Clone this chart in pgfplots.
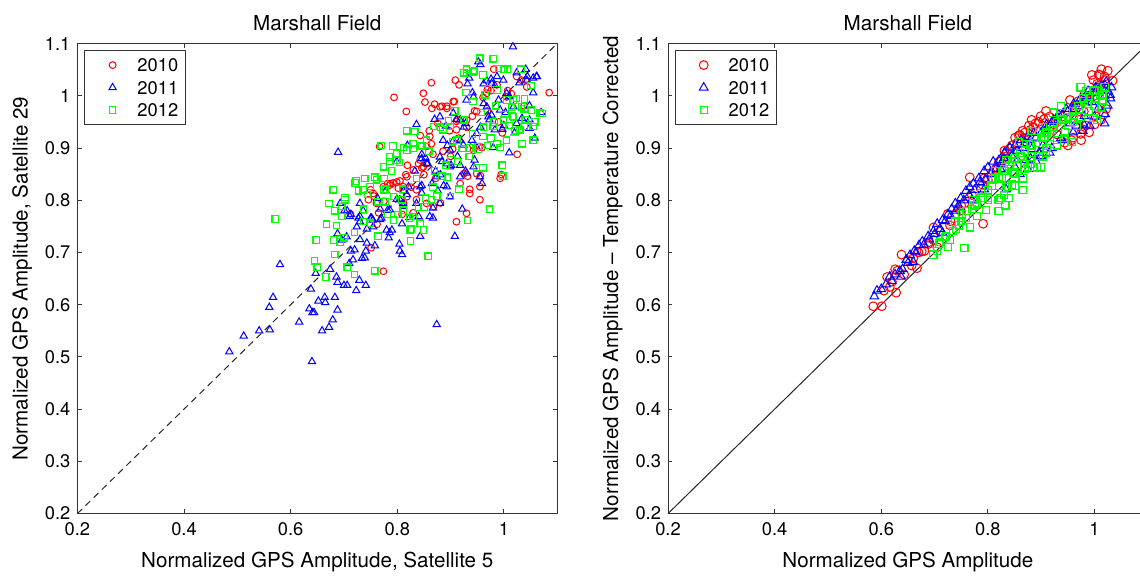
\documentclass[border=0pt]{standalone}
\usepackage{pgfplots}
\pgfplotsset{compat=1.18}
\usepackage{fontspec}
\setmainfont{TeX Gyre Heros}
\definecolor{mred}{rgb}{1,0,0}
\definecolor{mblue}{rgb}{0,0,1}
\definecolor{mgreen}{rgb}{0,1,0}

\pgfplotsset{
  mfig/.style={
    scale only axis, width=239.9pt, height=235pt,
    xmin=0.2, xmax=1.1, ymin=0.2, ymax=1.1,
    xtick={0.2,0.4,0.6,0.8,1},
    ytick={0.2,0.3,0.4,0.5,0.6,0.7,0.8,0.9,1,1.1},
    tick align=inside, major tick length=2.2pt,
    axis line style={black!80, line width=0.5pt},
    every tick/.style={black!80, line width=0.5pt},
    /pgf/number format/assume math mode=true,
    tick label style={font=\fontsize{9.15}{11}\selectfont},
    xticklabel style={yshift=-0.7pt},
    label style={font=\fontsize{10.3}{12}\selectfont},
    title style={font=\fontsize{10.3}{12}\selectfont, at={(axis description cs:0.5,1.01702)}, anchor=center},
    xlabel style={at={(axis description cs:0.5,-0.1149)}, anchor=base},
    ylabel style={at={(axis description cs:-0.1038,0.5)}, anchor=base},
    clip=false,
    legend cell align=left,
    legend style={
      at={(axis description cs:0.01292,0.98596)}, anchor=north west,
      draw=black!80, line width=0.5pt, fill=white,
      inner xsep=3.45pt, inner ysep=3.95pt,
      nodes={inner sep=0pt, text depth=0pt},
      row sep=4.75pt,
      font=\fontsize{9.15}{11}\selectfont,
    },
    legend image code/.code={\path (0pt,0pt) (22.75pt,0pt); \draw[##1] plot coordinates {(10.55pt,0pt)};},
  },
  ms2010/.style={only marks, mark=o, color=mred, mark options={line width=0.5pt, color=mred, fill=none}},
  ms2011/.style={only marks, mark=triangle, color=mblue, mark options={line width=0.5pt, color=mblue, fill=none}},
  ms2012/.style={only marks, mark=square, color=mgreen, mark options={line width=0.6pt, color=mgreen, fill=none}},
}

\pgfplotstableread{
x y
0.774 0.664
0.751 0.709
0.712 0.774
0.762 0.754
0.765 0.776
0.767 0.903
0.756 0.808
0.750 0.820
0.775 0.798
0.782 0.832
0.792 0.833
0.799 0.835
0.805 0.837
0.794 0.997
0.817 0.970
0.816 0.849
0.819 0.867
0.809 0.773
0.826 0.825
0.830 0.776
0.836 0.820
0.840 0.870
0.846 0.862
0.843 0.924
0.852 0.988
0.860 0.933
0.864 1.025
0.864 0.908
0.867 0.888
0.870 0.984
0.872 0.842
0.876 0.947
0.881 0.795
0.884 0.980
0.886 0.894
0.893 0.980
0.898 0.933
0.904 0.898
0.907 0.989
0.909 1.030
0.913 0.954
0.916 1.021
0.918 0.832
0.925 0.851
0.930 0.940
0.932 0.846
0.936 0.821
0.941 0.961
0.945 0.971
0.949 0.851
0.955 0.801
0.956 0.847
0.959 0.901
0.961 0.997
0.969 0.971
0.976 1.010
0.981 1.051
0.990 0.950
0.995 0.849
0.997 0.929
1.007 1.010
1.014 1.004
1.025 0.888
1.038 0.981
1.041 1.030
1.085 1.006
0.969 1.012
0.942 0.905
0.915 0.919
0.900 0.884
0.855 0.870
0.850 0.849
0.787 0.832
0.812 0.794
0.849 1.005
0.865 0.976
0.880 0.979
0.893 0.976
0.905 0.989
0.911 0.951
0.930 0.954
0.949 0.970
0.968 1.005
0.987 1.021
1.005 0.998
1.024 1.037
1.033 1.030
1.043 1.017
0.955 0.903
0.943 0.896
0.911 0.935
0.861 0.922
0.855 0.903
0.843 0.877
0.849 0.864
0.830 0.858
0.818 0.845
0.811 0.826
0.802 0.823
0.786 0.829
0.774 0.826
0.755 0.813
0.746 0.801
0.761 0.794
0.818 0.807
0.836 0.801
0.855 0.794
0.868 0.788
0.955 0.826
0.993 0.842
0.936 0.813
0.930 0.775
0.911 0.759
}\LA

\pgfplotstableread{
x y
0.485 0.510
0.512 0.540
0.541 0.550
0.561 0.552
0.560 0.595
0.567 0.614
0.580 0.677
0.616 0.567
0.635 0.592
0.638 0.630
0.641 0.585
0.644 0.585
0.640 0.491
0.647 0.660
0.652 0.607
0.659 0.550
0.664 0.614
0.665 0.604
0.672 0.557
0.679 0.571
0.683 0.614
0.688 0.590
0.686 0.653
0.688 0.643
0.689 0.892
0.674 0.668
0.688 0.736
0.693 0.794
0.696 0.724
0.700 0.637
0.706 0.637
0.710 0.679
0.713 0.703
0.720 0.705
0.717 0.686
0.706 0.780
0.723 0.627
0.729 0.647
0.730 0.725
0.727 0.766
0.730 0.794
0.736 0.780
0.734 0.689
0.739 0.690
0.741 0.637
0.743 0.745
0.752 0.766
0.754 0.762
0.758 0.713
0.763 0.804
0.778 0.818
0.782 0.781
0.784 0.728
0.786 0.738
0.790 0.743
0.799 0.874
0.804 0.716
0.805 0.703
0.809 0.696
0.811 0.788
0.812 0.818
0.818 0.811
0.819 0.905
0.833 0.856
0.836 0.945
0.840 0.769
0.843 0.731
0.846 0.814
0.846 0.888
0.853 0.881
0.857 0.870
0.867 0.766
0.867 0.785
0.870 0.955
0.872 0.856
0.874 0.562
0.881 0.849
0.884 0.874
0.887 0.828
0.891 0.942
0.894 0.905
0.901 0.867
0.904 0.912
0.908 0.731
0.911 0.955
0.913 0.884
0.918 0.915
0.922 0.783
0.925 0.940
0.928 0.856
0.932 1.023
0.935 1.034
0.941 1.006
0.945 0.877
0.949 0.901
0.952 1.065
0.956 1.060
0.956 0.940
0.959 0.832
0.962 0.985
0.968 1.029
0.973 0.954
0.976 1.032
0.980 0.901
0.983 1.020
0.990 0.992
0.997 0.936
1.000 0.943
1.010 0.891
1.017 1.094
1.020 0.929
1.024 1.044
1.029 1.025
1.034 0.957
1.041 1.051
1.044 1.037
1.048 0.981
1.048 0.954
1.055 1.006
1.058 0.919
1.061 1.037
1.070 0.968
1.048 0.938
1.003 0.968
1.010 0.999
0.962 1.023
0.928 0.947
0.918 0.867
0.893 0.870
0.876 0.818
0.865 0.832
0.846 0.828
0.823 0.767
0.809 0.755
0.799 0.802
0.768 0.783
0.770 0.766
0.750 0.766
0.730 0.759
0.741 0.703
0.713 0.773
0.701 0.780
0.977 1.024
0.987 1.037
0.999 1.030
1.005 1.005
1.011 0.998
0.968 0.979
0.971 0.960
0.977 0.963
0.993 0.973
1.018 0.979
1.024 0.947
0.983 0.935
0.949 0.928
0.940 0.915
0.924 0.906
0.899 0.896
0.886 0.915
0.880 0.960
0.918 0.954
0.905 0.967
0.930 0.992
0.943 0.998
1.043 1.030
1.055 1.034
1.062 1.037
0.846 0.880
0.855 0.871
0.880 0.883
0.899 0.864
0.874 0.845
0.893 0.826
0.843 0.826
0.821 0.826
0.805 0.801
0.786 0.782
0.768 0.763
0.755 0.749
0.730 0.769
0.724 0.749
0.711 0.769
0.705 0.730
0.743 0.718
0.780 0.743
0.811 0.794
0.836 0.794
0.861 0.769
0.880 0.794
0.899 0.807
0.918 0.845
0.930 0.852
0.943 0.864
0.955 0.845
}\LB

\pgfplotstableread{
x y
0.571 0.764
0.645 0.684
0.650 0.672
0.648 0.724
0.667 0.754
0.672 0.794
0.680 0.820
0.683 0.780
0.681 0.724
0.683 0.696
0.666 0.653
0.693 0.720
0.696 0.769
0.702 0.805
0.700 0.728
0.706 0.672
0.720 0.658
0.720 0.738
0.723 0.837
0.727 0.818
0.737 0.759
0.739 0.842
0.744 0.811
0.758 0.844
0.758 0.665
0.764 0.797
0.770 0.905
0.775 0.842
0.778 0.821
0.782 0.773
0.786 0.874
0.789 0.856
0.792 0.904
0.799 0.876
0.804 0.872
0.809 0.801
0.812 0.901
0.818 0.933
0.823 0.766
0.825 0.722
0.830 0.899
0.833 0.932
0.836 0.842
0.840 0.787
0.843 0.756
0.846 0.905
0.850 0.787
0.858 0.693
0.864 0.801
0.867 0.825
0.874 0.808
0.881 0.940
0.884 0.846
0.891 0.867
0.896 0.952
0.900 0.807
0.904 0.912
0.908 0.971
0.913 0.874
0.916 0.821
0.922 0.899
0.925 1.044
0.930 1.051
0.932 0.761
0.935 0.884
0.941 0.927
0.942 0.989
0.945 1.048
0.949 0.862
0.955 1.072
0.957 0.968
0.961 0.862
0.965 1.002
0.969 0.905
0.973 0.783
0.980 1.071
0.982 0.950
0.984 0.981
0.990 1.052
0.993 0.901
0.997 0.867
0.998 0.846
1.000 1.051
1.002 0.964
1.007 1.051
1.010 0.943
1.014 0.978
1.016 0.961
1.024 0.995
1.032 1.051
1.034 0.908
1.038 0.975
1.039 0.994
1.051 1.020
1.055 0.915
1.058 0.950
1.072 0.966
1.038 0.941
1.021 0.933
0.976 0.919
0.962 0.940
0.952 0.898
0.929 1.006
0.925 0.954
0.901 0.877
0.894 0.844
0.870 0.856
0.859 0.894
0.853 0.804
0.826 0.745
0.810 0.821
0.801 0.773
0.778 0.797
0.764 0.731
0.750 0.756
0.737 0.783
0.686 0.752
0.930 1.043
0.943 1.046
0.961 1.040
0.971 1.014
0.987 1.011
1.005 0.992
1.018 0.960
0.999 0.954
0.980 0.941
0.961 0.922
0.952 0.903
0.936 0.900
0.912 0.915
0.899 0.941
0.886 0.935
0.868 0.941
0.855 0.915
0.843 0.903
0.830 0.909
0.818 0.896
0.799 0.890
0.786 0.883
0.774 0.864
0.761 0.839
0.749 0.826
0.736 0.820
0.721 0.833
0.702 0.801
0.696 0.788
0.774 0.820
0.793 0.807
0.811 0.781
0.830 0.769
0.849 0.743
0.824 0.743
0.793 0.762
1.018 0.992
1.033 0.979
1.052 0.973
1.068 0.967
0.987 0.909
1.005 0.915
1.030 0.935
1.055 0.941
1.040 0.954
}\LC

\pgfplotstableread{
x y
0.585 0.597
0.601 0.597
0.605 0.627
0.616 0.634
0.611 0.653
0.628 0.623
0.626 0.668
0.638 0.696
0.643 0.658
0.667 0.670
0.660 0.689
0.676 0.702
0.688 0.716
0.698 0.748
0.705 0.710
0.725 0.774
0.729 0.752
0.749 0.780
0.766 0.844
0.780 0.791
0.791 0.755
0.787 0.821
0.800 0.839
0.810 0.856
0.821 0.874
0.831 0.895
0.841 0.899
0.851 0.920
0.858 0.924
0.865 0.933
0.877 0.943
0.882 0.954
0.889 0.947
0.899 0.961
0.909 0.971
0.903 0.943
0.944 0.910
0.957 0.915
0.954 0.992
0.964 0.981
0.971 0.954
0.978 0.936
0.974 0.927
0.981 1.002
0.991 1.009
0.998 1.030
1.002 0.961
1.005 1.023
1.008 1.041
1.013 1.051
1.019 1.037
1.022 0.975
1.025 1.048
1.034 1.029
1.012 0.954
1.017 0.964
1.008 1.016
0.984 0.943
0.930 0.926
0.916 0.940
0.868 0.919
0.834 0.884
0.817 0.863
0.793 0.842
0.756 0.794
0.739 0.773
0.698 0.724
0.681 0.703
0.657 0.675
0.620 0.644
0.630 0.665
0.650 0.685
0.670 0.700
0.690 0.720
0.710 0.740
0.730 0.760
0.750 0.790
0.770 0.810
0.790 0.830
0.815 0.860
0.825 0.875
0.835 0.890
0.845 0.905
0.855 0.910
0.860 0.925
0.870 0.930
0.880 0.935
0.885 0.940
0.895 0.950
0.905 0.955
0.915 0.960
0.925 0.945
0.940 0.960
0.950 0.970
0.960 0.970
0.970 0.990
0.980 0.970
0.990 0.990
1.000 1.000
1.010 1.020
1.020 1.030
1.010 1.040
0.995 1.040
0.960 0.920
0.975 0.915
0.990 0.930
1.000 0.945
0.950 0.905
}\RA

\pgfplotstableread{
x y
0.587 0.616
0.592 0.627
0.609 0.639
0.616 0.654
0.626 0.658
0.637 0.654
0.640 0.668
0.647 0.686
0.654 0.695
0.662 0.703
0.671 0.714
0.677 0.721
0.688 0.731
0.698 0.741
0.705 0.755
0.715 0.762
0.725 0.773
0.732 0.783
0.739 0.794
0.749 0.804
0.759 0.818
0.766 0.825
0.773 0.832
0.783 0.842
0.793 0.856
0.800 0.863
0.793 0.821
0.810 0.874
0.821 0.877
0.831 0.891
0.834 0.821
0.841 0.901
0.851 0.905
0.862 0.915
0.872 0.877
0.875 0.922
0.886 0.929
0.896 0.891
0.903 0.905
0.909 0.936
0.916 0.891
0.923 0.954
0.933 0.964
0.937 0.919
0.947 0.975
0.954 0.947
0.961 0.985
0.967 0.943
0.974 0.995
0.981 0.961
0.988 1.009
0.995 0.988
1.002 1.016
1.008 0.978
1.013 1.020
1.019 0.999
1.022 1.027
1.025 0.981
1.029 1.002
1.032 1.016
1.019 0.947
0.991 0.943
0.978 0.933
0.882 0.898
0.855 0.877
0.824 0.860
0.770 0.801
0.715 0.738
0.660 0.682
0.600 0.630
0.620 0.645
0.635 0.665
0.650 0.680
0.665 0.700
0.680 0.715
0.690 0.725
0.700 0.735
0.710 0.745
0.720 0.760
0.730 0.770
0.740 0.780
0.745 0.790
0.755 0.800
0.765 0.810
0.775 0.820
0.785 0.835
0.795 0.840
0.805 0.850
0.815 0.860
0.825 0.870
0.830 0.880
0.845 0.885
0.855 0.895
0.865 0.900
0.870 0.910
0.880 0.915
0.890 0.920
0.900 0.930
0.910 0.945
0.920 0.950
0.930 0.960
0.940 0.965
0.950 0.970
0.960 0.975
0.970 0.980
0.980 0.990
0.990 1.000
1.000 1.005
1.010 1.010
1.020 1.020
1.025 1.010
1.030 0.995
0.850 0.865
0.880 0.880
0.900 0.885
0.920 0.900
0.940 0.915
0.960 0.930
0.980 0.945
1.000 0.960
1.020 0.965
0.860 0.850
0.875 0.860
0.890 0.875
}\RB

\pgfplotstableread{
x y
0.705 0.703
0.725 0.710
0.756 0.709
0.722 0.731
0.735 0.741
0.739 0.759
0.766 0.748
0.752 0.773
0.770 0.783
0.773 0.801
0.797 0.781
0.787 0.814
0.824 0.804
0.833 0.790
0.840 0.804
0.838 0.825
0.850 0.828
0.865 0.820
0.821 0.828
0.814 0.842
0.831 0.856
0.848 0.853
0.865 0.842
0.869 0.860
0.845 0.874
0.862 0.884
0.879 0.877
0.892 0.863
0.899 0.863
0.903 0.884
0.882 0.898
0.872 0.908
0.889 0.919
0.906 0.922
0.916 0.908
0.923 0.940
0.937 0.954
0.943 0.919
0.957 0.912
0.950 0.943
0.961 0.961
0.971 0.975
0.978 0.995
0.974 1.016
0.984 1.009
0.988 0.985
0.998 0.957
1.002 0.995
1.008 1.009
1.012 0.978
1.015 1.002
1.019 1.016
1.005 0.954
0.967 0.943
0.930 0.905
0.909 0.891
0.875 0.863
0.855 0.867
0.827 0.842
0.807 0.828
0.800 0.804
0.780 0.794
0.759 0.766
0.746 0.752
0.729 0.724
0.708 0.717
0.698 0.696
0.903 0.940
0.923 0.968
0.937 0.981
0.882 0.933
0.858 0.912
0.834 0.877
0.814 0.856
0.710 0.720
0.720 0.730
0.740 0.745
0.750 0.760
0.760 0.780
0.775 0.790
0.790 0.805
0.800 0.820
0.810 0.840
0.820 0.845
0.830 0.860
0.840 0.865
0.850 0.880
0.860 0.890
0.870 0.895
0.880 0.905
0.890 0.910
0.900 0.920
0.910 0.930
0.920 0.935
0.930 0.950
0.940 0.955
0.950 0.960
0.960 0.970
0.970 0.980
0.980 0.990
0.990 1.000
1.000 1.010
1.010 1.000
0.960 0.950
0.975 0.960
0.990 0.970
1.000 0.980
1.015 0.990
0.850 0.850
0.870 0.870
0.880 0.870
0.895 0.885
0.910 0.900
0.930 0.915
0.945 0.930
0.830 0.810
0.845 0.830
0.820 0.780
0.800 0.800
0.780 0.770
0.820 0.800
}\RC

\begin{document}
\begin{tikzpicture}
\path[use as bounding box, clip] (0pt,0pt) rectangle (570pt,291pt);

\begin{axis}[mfig, at={(38.7pt,34.2pt)}, anchor=south west,
  title={Marshall Field},
  xlabel={Normalized GPS Amplitude, Satellite 5},
  ylabel={Normalized GPS Amplitude, Satellite 29}]
\addplot[forget plot, black!85, line width=0.5pt, dash pattern=on 3.3pt off 2.4pt] coordinates {(0.2,0.2) (1.1,1.1)};
\addplot[ms2010, mark size=1.7pt] table[x=x,y=y] {\LA};
\addlegendentry{2010}
\addplot[ms2011, mark size=2.1pt] table[x=x,y=y] {\LB};
\addlegendentry{2011}
\addplot[ms2012, mark size=1.6pt] table[x=x,y=y] {\LC};
\addlegendentry{2012}
\end{axis}

\begin{axis}[mfig, at={(334pt,34.2pt)}, anchor=south west,
  title={Marshall Field},
  xlabel={Normalized GPS Amplitude},
  ylabel={Normalized GPS Amplitude -- Temperature Corrected},
  legend style={at={(axis description cs:0.01396,0.98596)}}]
\addplot[forget plot, black!85, line width=0.5pt] coordinates {(0.2,0.2) (1.1,1.1)};
\addplot[ms2010, mark size=2.2pt] table[x=x,y=y] {\RA};
\addlegendentry{2010}
\addplot[ms2011, mark size=2.5pt] table[x=x,y=y] {\RB};
\addlegendentry{2011}
\addplot[ms2012, mark size=1.8pt] table[x=x,y=y] {\RC};
\addlegendentry{2012}
\end{axis}
\end{tikzpicture}
\end{document}
